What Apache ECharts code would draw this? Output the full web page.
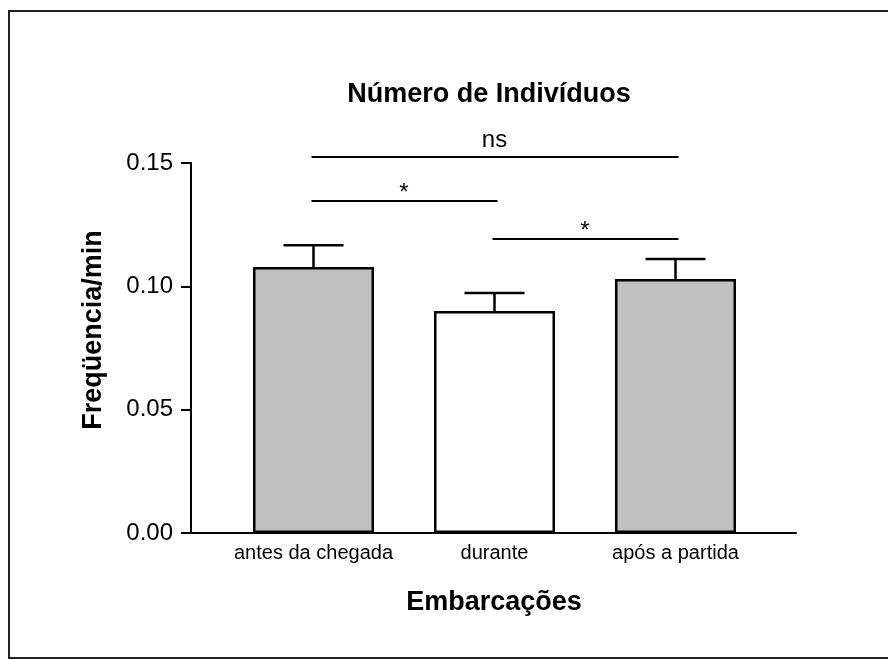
<!DOCTYPE html>
<html>
<head>
<meta charset="utf-8">
<script src="https://cdn.jsdelivr.net/npm/echarts@6/dist/echarts.min.js"></script>
<style>
  html, body { margin: 0; padding: 0; background: #fff; }
  #chart { width: 888px; height: 659px; }
</style>
</head>
<body>
<div id="chart"></div>
<script>
// categorias e médias
const categories = ['antes da chegada', 'durante', 'após a partida']
const means = [0.1078, 0.0900, 0.1030]
const sem = [0.0089, 0.0073, 0.0081]
const barColors = ['#c0c0c0', '#ffffff', '#c0c0c0']
// comparações: [de, até, altura, rótulo]
const compFrom = [0, 0, 1]
const compTo = [2, 1, 2]
const compHeight = [0.1524, 0.1346, 0.1192]
const compLabel = ['ns', '*', '*']

const font = "'Liberation Sans', Arial, sans-serif"
const chart = echarts.init(document.getElementById('chart'))

chart.setOption({
  backgroundColor: '#fff',
  animation: false,
  textStyle: { fontFamily: font, color: '#000' },
  title: {
    text: 'Número de Indivíduos',
    left: 484,
    top: 76,
    textAlign: 'center',
    textStyle: { fontFamily: font, fontSize: 27, fontWeight: 'bold', color: '#000' }
  },
  graphic: [
    {
      type: 'rect',
      silent: true,
      shape: { x: 9, y: 11, width: 900, height: 647 },
      style: { fill: null, stroke: '#222', lineWidth: 2 }
    },
    {
      type: 'text',
      x: 94,
      y: 330,
      rotation: Math.PI / 2,
      style: {
        text: 'Freqüencia/min',
        fontFamily: font,
        fontSize: 27,
        fontWeight: 'bold',
        fill: '#000',
        align: 'center',
        verticalAlign: 'middle'
      }
    },
    {
      type: 'text',
      x: 494,
      y: 603,
      style: {
        text: 'Embarcações',
        fontFamily: font,
        fontSize: 27,
        fontWeight: 'bold',
        fill: '#000',
        align: 'center',
        verticalAlign: 'middle'
      }
    }
  ],
  grid: [
    { left: 223, right: 122, top: 163, bottom: 126 },
    { left: 191, right: 92, top: 163, bottom: 126 }
  ],
  xAxis: [
    {
      type: 'category',
      gridIndex: 0,
      data: categories,
      axisLine: { show: false },
      axisTick: { show: false },
      axisLabel: { fontFamily: font, fontSize: 20, color: '#000', margin: 10, interval: 0, hideOverlap: false }
    },
    {
      type: 'value',
      gridIndex: 1,
      min: 0,
      max: 1,
      axisLine: { show: true, lineStyle: { color: '#000', width: 2 } },
      axisTick: { show: false },
      axisLabel: { show: false },
      splitLine: { show: false }
    }
  ],
  yAxis: [
    {
      type: 'value',
      gridIndex: 0,
      min: 0,
      max: 0.15,
      interval: 0.05,
      offset: 32,
      axisLine: { show: true, lineStyle: { color: '#000', width: 2 } },
      axisTick: { show: true, length: 10, lineStyle: { color: '#000', width: 2 } },
      axisLabel: {
        fontFamily: font,
        fontSize: 24,
        color: '#000',
        margin: 18,
        formatter: v => v.toFixed(2)
      },
      splitLine: { show: false }
    },
    {
      type: 'value',
      gridIndex: 1,
      min: 0,
      max: 0.15,
      show: false
    }
  ],
  series: [
    {
      type: 'bar',
      xAxisIndex: 0,
      yAxisIndex: 0,
      barWidth: 121,
      data: means.map((v, i) => ({
        value: v,
        itemStyle: { color: barColors[i], borderColor: '#000', borderWidth: 2.5 }
      })),
      z: 2
    },
    {
      type: 'custom',
      name: 'erro',
      xAxisIndex: 0,
      yAxisIndex: 0,
      z: 3,
      encode: { x: 0, y: [1, 2] },
      data: means.map((v, i) => [i, v, v + sem[i]]),
      renderItem(params, api) {
        const base = api.coord([api.value(0), api.value(1)])
        const top = api.coord([api.value(0), api.value(2)])
        const style = { stroke: '#000', lineWidth: 2.5 }
        return {
          type: 'group',
          children: [
            { type: 'line', shape: { x1: base[0], y1: base[1], x2: top[0], y2: top[1] }, style },
            { type: 'line', shape: { x1: top[0] - 30, y1: top[1], x2: top[0] + 30, y2: top[1] }, style }
          ]
        }
      }
    },
    {
      type: 'custom',
      name: 'comparacoes',
      xAxisIndex: 0,
      yAxisIndex: 0,
      z: 3,
      clip: false,
      encode: { x: 0, y: 1 },
      data: compHeight.map((h, i) => [compFrom[i], h]),
      renderItem(params, api) {
        const i = params.dataIndex
        const p1 = api.coord([compFrom[i], compHeight[i]])
        const p2 = api.coord([compTo[i], compHeight[i]])
        const isStar = compLabel[i] === '*'
        return {
          type: 'group',
          children: [
            {
              type: 'line',
              shape: { x1: p1[0] - 2, y1: p1[1], x2: p2[0] + 3, y2: p1[1] },
              style: { stroke: '#000', lineWidth: 2 }
            },
            {
              type: 'text',
              x: (p1[0] + p2[0]) / 2,
              y: p1[1] - (isStar ? 8 : 17),
              style: {
                text: compLabel[i],
                fontFamily: font,
                fontSize: 24,
                fill: '#000',
                align: 'center',
                verticalAlign: 'middle'
              }
            }
          ]
        }
      }
    }
  ]
})
</script>
</body>
</html>
